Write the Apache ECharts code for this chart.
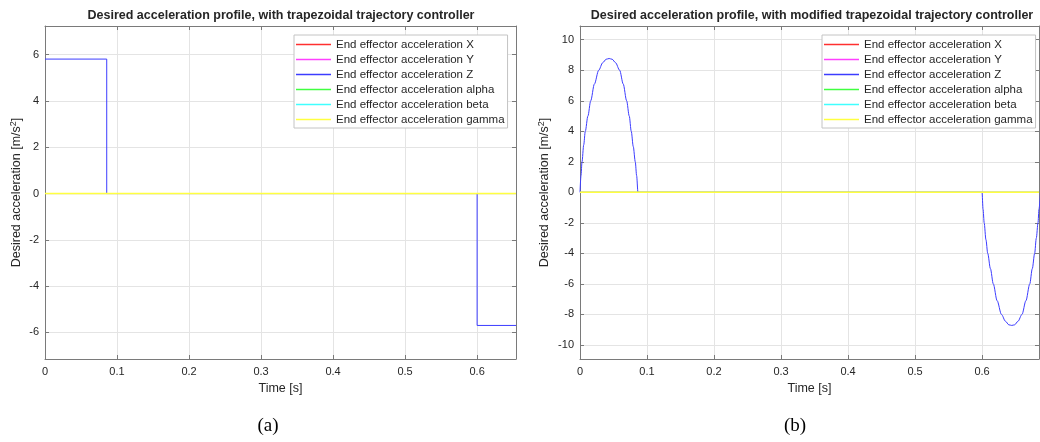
<!DOCTYPE html>
<html>
<head>
<meta charset="utf-8">
<script src="https://cdn.jsdelivr.net/npm/echarts@6/dist/echarts.min.js"></script>
<style>
  html, body { margin: 0; padding: 0; background: #fff; }
  #chart { width: 1040px; height: 442px; }
</style>
</head>
<body>
<div id="chart"></div>
<script>
const seriesNames = [
  'End effector acceleration X',
  'End effector acceleration Y',
  'End effector acceleration Z',
  'End effector acceleration alpha',
  'End effector acceleration beta',
  'End effector acceleration gamma'
]
const lineColors = ['#ff3030', '#ff40ff', '#3c3cff', '#40ff40', '#40ffff', '#ffff40']

// (a) trapezoidal: Z is a step profile, all others stay at zero
const tA = [0, 0.0857, 0.0857, 0.6, 0.6, 0.654]
const zA = [5.81, 5.81, 0, 0, -5.70, -5.70]
const spanA = [0, 0.654]
const flatA = [0, 0]

// (b) modified trapezoidal: smooth lobes on Z
const tB = [
  0, 0.0015, 0.003, 0.0055, 0.0079, 0.0118, 0.016, 0.0215, 0.0279, 0.034, 0.039, 0.0435,
  0.048, 0.053, 0.0592, 0.0645, 0.0696, 0.0735, 0.0765, 0.0795, 0.0825, 0.0845, 0.0865,
  0.6, 0.6015, 0.6032, 0.6058, 0.6085, 0.6125, 0.6168, 0.6225, 0.629, 0.635, 0.640, 0.6443,
  0.6486, 0.6536, 0.6596, 0.6655, 0.6712, 0.675, 0.6785, 0.681, 0.6835, 0.685, 0.6872
]
const zB = [
  0, 1.1, 2.0, 3.1, 4.0, 5.0, 6.0, 7.1, 8.0, 8.5, 8.72, 8.77,
  8.72, 8.5, 8.0, 7.1, 6.0, 5.0, 4.0, 3.0, 2.0, 1.1, 0,
  0, -1.1, -2.0, -3.1, -4.0, -5.0, -6.0, -7.1, -8.0, -8.45, -8.68, -8.72,
  -8.68, -8.45, -8.0, -7.1, -6.0, -5.0, -4.0, -3.0, -2.0, -1.1, 0
]
const spanB = [0, 0.685]
const flatB = [0, 0]

const xTicks = [0, 0.1, 0.2, 0.3, 0.4, 0.5, 0.6]
const yTicksA = [-6, -4, -2, 0, 2, 4, 6]
const yTicksB = [-10, -8, -6, -4, -2, 0, 2, 4, 6, 8, 10]

const textColor = '#262626'
const axisColor = '#7a7a7a'
const gridColor = '#e4e4e4'
const font = 'Liberation Sans, Arial, Helvetica, sans-serif'

const zip = (xs, ys) => xs.map((x, i) => [x, ys[i]])

const makeX = (gridIndex, max, top) => ({
  type: 'value',
  gridIndex,
  position: top ? 'top' : 'bottom',
  min: 0,
  max,
  name: top ? '' : 'Time [s]',
  nameLocation: 'middle',
  nameGap: 23,
  nameTextStyle: { fontSize: 12.5, color: textColor, fontFamily: font },
  axisLine: { show: true, onZero: false, lineStyle: { color: axisColor, width: 1 } },
  axisTick: { show: true, inside: true, length: 4, customValues: xTicks, lineStyle: { color: axisColor } },
  axisLabel: {
    show: !top, margin: 7, fontSize: 11, color: textColor, fontFamily: font,
    customValues: xTicks, formatter: v => String(v)
  },
  splitLine: { show: !top, lineStyle: { color: gridColor, width: 1 } }
})

const makeY = (gridIndex, min, max, ticks, nameGap, right) => ({
  type: 'value',
  gridIndex,
  position: right ? 'right' : 'left',
  min,
  max,
  name: right ? '' : 'Desired acceleration [m/s{sup|2}]',
  nameLocation: 'middle',
  nameGap,
  nameTextStyle: {
    fontSize: 12.5, color: textColor, fontFamily: font,
    rich: { sup: { fontSize: 9, color: textColor, fontFamily: font, padding: [0, 0, 7, 0] } }
  },
  axisLine: { show: true, onZero: false, lineStyle: { color: axisColor, width: 1 } },
  axisTick: { show: true, inside: true, length: 4, customValues: ticks, lineStyle: { color: axisColor } },
  axisLabel: {
    show: !right, margin: 6, fontSize: 11, color: textColor, fontFamily: font,
    customValues: ticks
  },
  splitLine: { show: !right, lineStyle: { color: gridColor, width: 1 } }
})

const makeSeries = (axisIndex, t, z, span, flat, smooth) => seriesNames.map((name, i) => ({
  name,
  type: 'line',
  xAxisIndex: axisIndex,
  yAxisIndex: axisIndex,
  data: i === 2 ? zip(t, z) : zip(span, flat),
  showSymbol: false,
  symbol: 'none',
  smooth: i === 2 ? smooth : false,
  smoothMonotone: 'x',
  animation: false,
  lineStyle: { color: lineColors[i], width: i === 5 ? 1.5 : 1 },
  itemStyle: { color: lineColors[i] },
  z: 2 + i
}))

const makeLegend = (left) => ({
  orient: 'vertical',
  left,
  top: 35,
  data: seriesNames,
  icon: 'rect',
  itemWidth: 35,
  itemHeight: 1.5,
  itemGap: 2,
  padding: [3, 3, 2, 2],
  backgroundColor: '#fff',
  borderColor: '#c4c4c4',
  borderWidth: 1,
  selectedMode: false,
  textStyle: { fontSize: 11.5, lineHeight: 13, color: textColor, fontFamily: font }
})

const chart = echarts.init(document.getElementById('chart'))
chart.setOption({
  backgroundColor: '#fff',
  animation: false,
  title: [
    {
      text: 'Desired acceleration profile, with trapezoidal trajectory controller',
      left: 281, top: 9, textAlign: 'center', padding: 0,
      textStyle: { fontSize: 12.5, fontWeight: 'bold', color: textColor, fontFamily: font }
    },
    {
      text: 'Desired acceleration profile, with modified trapezoidal trajectory controller',
      left: 812, top: 9, textAlign: 'center', padding: 0,
      textStyle: { fontSize: 12.5, fontWeight: 'bold', color: textColor, fontFamily: font }
    },
    {
      text: '(a)', left: 268, top: 417, textAlign: 'center', padding: 0,
      textStyle: { fontSize: 19, fontWeight: 'normal', color: '#000', fontFamily: 'Liberation Serif, DejaVu Serif, serif' }
    },
    {
      text: '(b)', left: 795, top: 417, textAlign: 'center', padding: 0,
      textStyle: { fontSize: 19, fontWeight: 'normal', color: '#000', fontFamily: 'Liberation Serif, DejaVu Serif, serif' }
    }
  ],
  legend: [makeLegend(294), makeLegend(822)],
  grid: [
    { left: 45, top: 26, width: 471, height: 333, show: true, backgroundColor: '#fff', borderWidth: 0 },
    { left: 580, top: 26, width: 459, height: 333, show: true, backgroundColor: '#fff', borderWidth: 0 }
  ],
  xAxis: [
    makeX(0, spanA[1], false),
    makeX(1, spanB[1], false),
    makeX(0, spanA[1], true),
    makeX(1, spanB[1], true)
  ],
  yAxis: [
    makeY(0, -7.15, 7.24, yTicksA, 20, false),
    makeY(1, -10.92, 10.9, yTicksB, 27, false),
    makeY(0, -7.15, 7.24, yTicksA, 0, true),
    makeY(1, -10.92, 10.9, yTicksB, 0, true)
  ],
  series: [
    ...makeSeries(0, tA, zA, spanA, flatA, false),
    ...makeSeries(1, tB, zB, spanB, flatB, 0.3)
  ]
})
</script>
</body>
</html>
